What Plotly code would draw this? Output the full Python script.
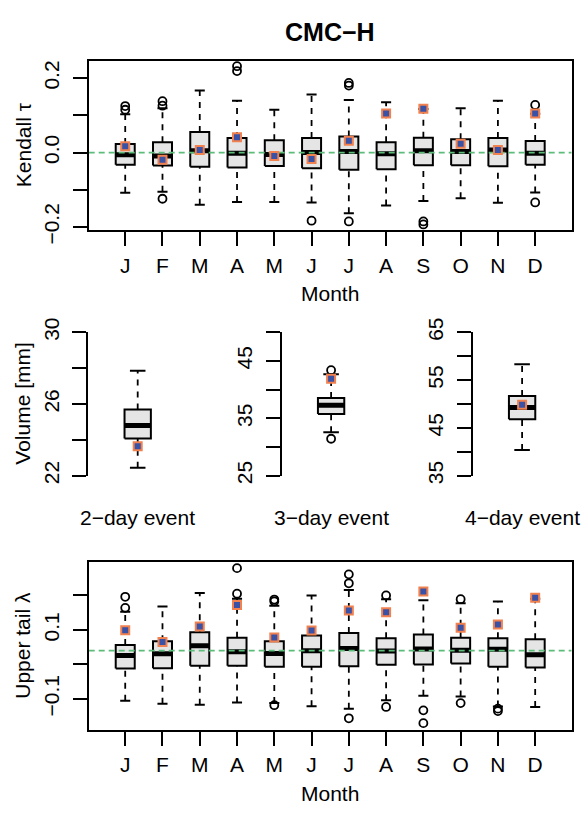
import plotly.graph_objects as go

W, H = 587, 817

# ---------------- data ----------------
months = ["J", "F", "M", "A", "M", "J", "J", "A", "S", "O", "N", "D"]
month_pos = list(range(1, 13))

# Kendall tau (top panel)
tau_lo = [-0.108, -0.105, -0.140, -0.133, -0.133, -0.134, -0.163, -0.142, -0.130, -0.123, -0.135, -0.107]
tau_q1 = [-0.033, -0.035, -0.038, -0.040, -0.036, -0.042, -0.046, -0.045, -0.034, -0.034, -0.037, -0.033]
tau_med = [-0.006, -0.009, 0.005, -0.002, -0.005, 0.000, 0.003, -0.003, 0.005, 0.003, 0.007, -0.002]
tau_q3 = [0.023, 0.028, 0.055, 0.039, 0.033, 0.039, 0.043, 0.028, 0.040, 0.036, 0.039, 0.031]
tau_hi = [0.103, 0.119, 0.167, 0.139, 0.115, 0.156, 0.141, 0.135, 0.117, 0.119, 0.139, 0.104]
tau_mean = [0.017, -0.019, 0.007, 0.041, -0.009, -0.017, 0.032, 0.105, 0.118, 0.024, 0.007, 0.105]
tau_out = [[0.115, 0.125], [0.126, 0.138, -0.124], [], [0.219, 0.232], [], [-0.183],
           [0.180, 0.187, -0.185], [], [-0.185, -0.193], [], [], [0.128, -0.134]]
tau_ref = 0.0
tau_ticks = [-0.2, -0.1, 0.0, 0.1, 0.2]
tau_ticktext = ["\u22120.2", "", "0.0", "", "0.2"]

# Upper tail lambda (bottom panel)
lam_lo = [-0.105, -0.114, -0.117, -0.110, -0.112, -0.121, -0.128, -0.104, -0.091, -0.093, -0.122, -0.123]
lam_q1 = [-0.012, -0.011, -0.004, -0.004, -0.007, -0.007, -0.005, -0.001, 0.000, 0.003, -0.007, -0.009]
lam_med = [0.026, 0.031, 0.054, 0.037, 0.032, 0.040, 0.046, 0.039, 0.045, 0.041, 0.044, 0.028]
lam_q3 = [0.056, 0.067, 0.093, 0.077, 0.067, 0.084, 0.091, 0.076, 0.087, 0.077, 0.076, 0.073]
lam_hi = [0.153, 0.168, 0.207, 0.190, 0.170, 0.200, 0.216, 0.189, 0.186, 0.177, 0.182, 0.190]
lam_mean = [0.099, 0.065, 0.110, 0.172, 0.078, 0.098, 0.156, 0.151, 0.211, 0.106, 0.116, 0.193]
lam_out = [[0.164, 0.196], [], [], [0.205, 0.279], [0.183, 0.188, -0.118], [],
           [0.235, 0.261, -0.156], [0.200, -0.123], [-0.133, -0.170], [0.189, -0.112],
           [-0.128, -0.135], []]
lam_ref = 0.04
lam_ticks = [-0.1, 0.0, 0.1, 0.2]
lam_ticktext = ["\u22120.1", "", "0.1", ""]

# Event volumes (middle panels)
event_labels = ["2\u2212day event", "3\u2212day event", "4\u2212day event"]
vol_lo = [22.45, 32.6, 40.4]
vol_q1 = [24.08, 35.76, 46.84]
vol_med = [24.8, 37.3, 49.3]
vol_q3 = [25.7, 38.57, 51.68]
vol_hi = [27.85, 42.7, 58.3]
vol_mean = [23.65, 41.9, 49.87]
vol_out = [[], [31.45, 43.4], []]
vol_ticks = [[22, 24, 26, 28, 30], [25, 30, 35, 40, 45, 50], [35, 40, 45, 50, 55, 60, 65]]
vol_ticktext = [["22", "", "26", "", "30"], ["25", "", "35", "", "45", ""],
                ["35", "", "45", "", "55", "", "65"]]
vol_ranges = [[22, 30], [25, 50], [35, 65]]

# ---------------- style ----------------
FONT = "Liberation Sans, Arial, Helvetica, sans-serif"
FS = 21
BOX_FILL = "#E5E5E5"
MEAN_FILL = "#3A52A6"
MEAN_EDGE = "#F28150"
REF_COLOR = "#5CBD7B"


def px(v):
    return v / W


def py(v):
    return 1 - v / H


fig = go.Figure()


def add_boxes(xs, lo, q1, med, q3, hi, mean, outs, xa, ya, hw, cw, ref=None, xr=None):
    common = dict(xaxis=xa, yaxis=ya, hoverinfo="skip", showlegend=False)
    # whiskers (dashed)
    wx, wy = [], []
    for x, a, b, c, d in zip(xs, lo, q1, q3, hi):
        wx += [x, x, None, x, x, None]
        wy += [a, b, None, c, d, None]
    fig.add_trace(go.Scatter(x=wx, y=wy, mode="lines",
                             line=dict(color="black", width=1.8, dash="6px,6px"), **common))
    # caps
    cx, cy = [], []
    for x, a, d in zip(xs, lo, hi):
        cx += [x - cw, x + cw, None, x - cw, x + cw, None]
        cy += [a, a, None, d, d, None]
    fig.add_trace(go.Scatter(x=cx, y=cy, mode="lines",
                             line=dict(color="black", width=2), **common))
    # boxes
    bx, by = [], []
    for x, b, c in zip(xs, q1, q3):
        bx += [x - hw, x + hw, x + hw, x - hw, x - hw, None]
        by += [b, b, c, c, b, None]
    fig.add_trace(go.Scatter(x=bx, y=by, mode="lines", fill="toself", fillcolor=BOX_FILL,
                             line=dict(color="black", width=2), **common))
    # medians
    mx, my = [], []
    for x, m in zip(xs, med):
        mx += [x - hw, x + hw, None]
        my += [m, m, None]
    fig.add_trace(go.Scatter(x=mx, y=my, mode="lines",
                             line=dict(color="black", width=5), **common))
    # reference line
    if ref is not None:
        fig.add_trace(go.Scatter(x=[xr[0], xr[1]], y=[ref, ref], mode="lines",
                                 line=dict(color=REF_COLOR, width=1.8, dash="6px,4px"),
                                 **common))
    # outliers
    ox, oy = [], []
    for x, o in zip(xs, outs):
        for v in o:
            ox.append(x)
            oy.append(v)
    fig.add_trace(go.Scatter(x=ox, y=oy, mode="markers",
                             marker=dict(symbol="circle-open", size=8, color="black",
                                         line=dict(width=1.8, color="black")), **common))
    # means
    fig.add_trace(go.Scatter(x=xs, y=mean, mode="markers",
                             marker=dict(symbol="square", size=8, color=MEAN_FILL,
                                         line=dict(width=2, color=MEAN_EDGE)), **common))


main_xr = [0.02, 12.98]
add_boxes(month_pos, tau_lo, tau_q1, tau_med, tau_q3, tau_hi, tau_mean, tau_out,
          "x", "y", 0.255, 0.135, ref=tau_ref, xr=main_xr)
add_boxes(month_pos, lam_lo, lam_q1, lam_med, lam_q3, lam_hi, lam_mean, lam_out,
          "x5", "y5", 0.255, 0.135, ref=lam_ref, xr=main_xr)
for i in range(3):
    add_boxes([1], [vol_lo[i]], [vol_q1[i]], [vol_med[i]], [vol_q3[i]], [vol_hi[i]],
              [vol_mean[i]], [vol_out[i]], "x%d" % (i + 2), "y%d" % (i + 2), 0.144, 0.085)

axis_common = dict(showgrid=False, zeroline=False, showline=True, linecolor="black",
                   linewidth=2, ticks="outside", ticklen=14, tickwidth=2, tickcolor="black",
                   tickfont=dict(family=FONT, size=FS, color="black"))

main_xdom = [px(88.7), px(571.7)]
layout = dict(
    width=W, height=H, margin=dict(l=0, r=0, t=0, b=0),
    paper_bgcolor="white", plot_bgcolor="white", showlegend=False,
    font=dict(family=FONT, size=FS, color="black"),
    xaxis=dict(domain=main_xdom, range=main_xr, anchor="y", tickvals=month_pos,
               ticktext=months, mirror=True, ticklabelstandoff=1, **axis_common),
    yaxis=dict(domain=[py(223.3), py(47.3)], range=[-0.209, 0.247], anchor="x",
               tickvals=tau_ticks, ticktext=tau_ticktext, tickangle=-90, mirror=True,
               ticklabelstandoff=5, **axis_common),
    xaxis5=dict(domain=main_xdom, range=main_xr, anchor="y5", tickvals=month_pos,
                ticktext=months, mirror=True, ticklabelstandoff=1, **axis_common),
    yaxis5=dict(domain=[py(741), py(566.7)], range=[-0.189, 0.298], anchor="x5",
                tickvals=lam_ticks, ticktext=lam_ticktext, tickangle=-90, mirror=True,
                ticklabelstandoff=5, **axis_common),
)
mid_left = [88.3, 281.7, 472.7]
mid_w = 98.8
for i in range(3):
    k = i + 2
    layout["xaxis%d" % k] = dict(domain=[px(mid_left[i]), px(mid_left[i] + mid_w)],
                                 range=[0.46, 1.54], anchor="y%d" % k, visible=False)
    layout["yaxis%d" % k] = dict(domain=[py(477.7), py(329)], range=vol_ranges[i],
                                 anchor="x%d" % k, tickvals=vol_ticks[i],
                                 ticktext=vol_ticktext[i], tickangle=-90,
                                 ticklabelstandoff=5, **axis_common)

ann = []
ann.append(dict(text="<b>CMC\u2212H</b>", x=px(330), y=py(18), xref="paper", yref="paper",
                showarrow=False, font=dict(size=25, family=FONT), xanchor="center",
                yanchor="middle"))
for txt, yc in [("Kendall \u03c4", 135), ("Volume [mm]", 403), ("Upper tail \u03bb", 654)]:
    ann.append(dict(text=txt, x=px(23), y=py(yc), xref="paper", yref="paper",
                    showarrow=False, textangle=-90, font=dict(size=FS, family=FONT),
                    xanchor="center", yanchor="middle"))
for yc in [289, 807]:
    ann.append(dict(text="Month", x=px(330), y=py(yc), xref="paper", yref="paper",
                    showarrow=False, font=dict(size=FS, family=FONT),
                    xanchor="center", yanchor="middle"))
for i in range(3):
    ann.append(dict(text=event_labels[i], x=1, xref="x%d" % (i + 2), y=py(521),
                    yref="paper", showarrow=False, font=dict(size=FS, family=FONT),
                    xanchor="center", yanchor="middle"))
layout["annotations"] = ann

fig.update_layout(**layout)
fig.write_html("out.html")
